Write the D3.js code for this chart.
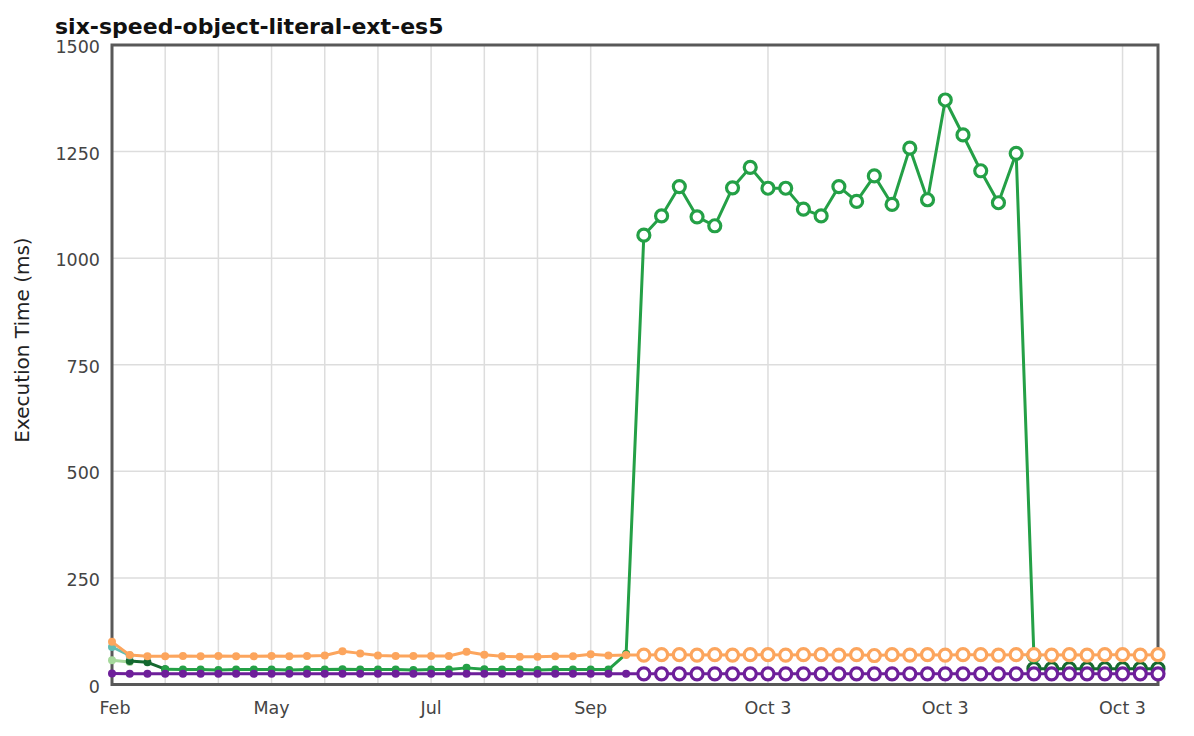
<!DOCTYPE html>
<html>
<head>
<meta charset="utf-8">
<script src="https://cdn.jsdelivr.net/npm/d3@7"></script>
<style>
  body { margin: 0; background: #fff; }
</style>
</head>
<body>
<div id="chart"></div>
<script>
// values, one slot per run (60 runs)
var title = "six-speed-object-literal-ext-es5";
var yLabel = "Execution Time (ms)";
var yTicks = [0, 250, 500, 750, 1000, 1250, 1500];
var gridRuns = [3, 6, 9, 12, 15, 18, 21, 24, 27, 37, 47, 57];
var tickRuns = [0, 9, 18, 27, 37, 47, 57];
var tickLabels = ["Feb", "May", "Jul", "Sep", "Oct 3", "Oct 3", "Oct 3"];
var firstBig = 30; // runs from here on get the big hollow markers

var orange = [100, 69, 66, 66, 67, 66, 67, 66, 66, 67, 66, 67, 68, 78, 73, 68, 67, 67, 67, 67, 77, 70, 66, 65, 65, 66, 66, 71, 68, 69,
              69, 70, 70, 69, 70, 69, 70, 70, 69, 70, 70, 69, 70, 68, 70, 69, 70, 69, 70, 70, 69, 70, 70, 69, 70, 69, 70, 70, 69, 70];
var purple = [26, 25, 25, 25, 25, 25, 25, 25, 25, 25, 25, 25, 25, 25, 25, 25, 25, 25, 25, 25, 25, 25, 25, 25, 25, 25, 25, 25, 25, 25,
              25, 25, 25, 25, 25, 25, 25, 25, 25, 25, 25, 25, 25, 25, 25, 25, 25, 25, 25, 25, 25, 25, 25, 25, 25, 25, 25, 25, 25, 25];
var green = [null, null, null, 36, 35, 35, 34, 35, 35, 35, 34, 35, 35, 36, 35, 35, 35, 34, 35, 35, 39, 36, 35, 35, 34, 35, 35, 35, 35, 72,
             1054, 1099, 1168, 1097, 1076, 1165, 1213, 1164, 1164, 1115, 1099, 1168, 1133, 1193, 1126, 1258, 1137, 1371, 1289, 1205, 1130, 1246,
             68, null, null, null, null, null, null, null];
var darkGreen = [null, 55, 52, 36, null, null, null, null, null, null, null, null, null, null, null, null, null, null, null, null, null, null, null, null, null, null, null, null, null, null,
                 null, null, null, null, null, null, null, null, null, null, null, null, null, null, null, null, null, null, null, null, null, null,
                 37, 37, 37, 37, 37, 37, 37, 37];
var lightGreen = [57, 53];
var teal = [88, 68];

var w = 1194;
var h = 736;
// plot box (note: "top" is taken by window.top, so use other names)
var pLeft = 112, pRight = 1158, pTop = 45, pBottom = 684.5;

var svg = d3.select("#chart")
    .append("svg")
    .attr("width", w)
    .attr("height", h)
    .style("font-family", "'DejaVu Sans', Verdana, sans-serif");

var xScale = d3.scaleLinear()
    .domain([0, orange.length - 1])
    .range([pLeft, pRight]);
var yScale = d3.scaleLinear()
    .domain([0, 1500])
    .range([pBottom, pTop]);

// grid
svg.selectAll("line.vgrid")
    .data(gridRuns)
    .enter()
    .append("line")
    .attr("class", "vgrid")
    .attr("x1", function(d) { return xScale(d); })
    .attr("x2", function(d) { return xScale(d); })
    .attr("y1", pTop)
    .attr("y2", pBottom)
    .attr("stroke", "#dddddd")
    .attr("stroke-width", 1.5);

svg.selectAll("line.hgrid")
    .data(yTicks.slice(1, -1))
    .enter()
    .append("line")
    .attr("class", "hgrid")
    .attr("x1", pLeft)
    .attr("x2", pRight)
    .attr("y1", function(d) { return yScale(d); })
    .attr("y2", function(d) { return yScale(d); })
    .attr("stroke", "#dddddd")
    .attr("stroke-width", 1.5);

svg.append("rect")
    .attr("x", pLeft)
    .attr("y", pTop)
    .attr("width", pRight - pLeft)
    .attr("height", pBottom - pTop)
    .attr("fill", "none")
    .attr("stroke", "#585858")
    .attr("stroke-width", 3);

// axis labels
svg.selectAll("text.ytick")
    .data(yTicks)
    .enter()
    .append("text")
    .attr("class", "ytick")
    .attr("x", 100)
    .attr("y", function(d) { return yScale(d) + 2; })
    .attr("dy", "0.35em")
    .attr("text-anchor", "end")
    .attr("font-size", "17.5px")
    .attr("fill", "#444")
    .text(function(d) { return d; });

svg.selectAll("text.xtick")
    .data(tickRuns)
    .enter()
    .append("text")
    .attr("class", "xtick")
    .attr("x", function(d, i) { return xScale(d) + (i == 0 ? 3 : 0); })
    .attr("y", 714)
    .attr("text-anchor", "middle")
    .attr("font-size", "17.5px")
    .attr("fill", "#444")
    .text(function(d, i) { return tickLabels[i]; });

svg.append("text")
    .attr("transform", "translate(29,340) rotate(-90)")
    .attr("text-anchor", "middle")
    .attr("font-size", "20px")
    .attr("fill", "#222")
    .text(yLabel);

svg.append("text")
    .attr("x", 55)
    .attr("y", 34)
    .attr("font-size", "22px")
    .attr("font-weight", "bold")
    .attr("fill", "#111")
    .text(title);

// series, bottom to top
var series = [
    { values: lightGreen, color: "#a6d99c" },
    { values: darkGreen, color: "#14692f" },
    { values: green, color: "#24a046" },
    { values: teal, color: "#62bdb3" },
    { values: orange, color: "#fca55d" },
    { values: purple, color: "#6e1f9a" }
];

var line = d3.line()
    .defined(function(d) { return d != null; })
    .x(function(d, i) { return xScale(i); })
    .y(function(d) { return yScale(d); });

series.forEach(function(s) {
    var g = svg.append("g");
    g.append("path")
        .attr("d", line(s.values))
        .attr("fill", "none")
        .attr("stroke", s.color)
        .attr("stroke-width", 3)
        .attr("stroke-linejoin", "round");

    var pts = s.values
        .map(function(v, i) { return { i: i, v: v }; })
        .filter(function(d) { return d.v != null; });

    g.selectAll("circle")
        .data(pts)
        .enter()
        .append("circle")
        .attr("cx", function(d) { return xScale(d.i); })
        .attr("cy", function(d) { return yScale(d.v); })
        .attr("r", function(d) { return d.i < firstBig ? 4 : 6; })
        .attr("fill", function(d) { return d.i < firstBig ? s.color : "#fff"; })
        .attr("stroke", s.color)
        .attr("stroke-width", function(d) { return d.i < firstBig ? 0 : 3.2; });
});
</script>
</body>
</html>
